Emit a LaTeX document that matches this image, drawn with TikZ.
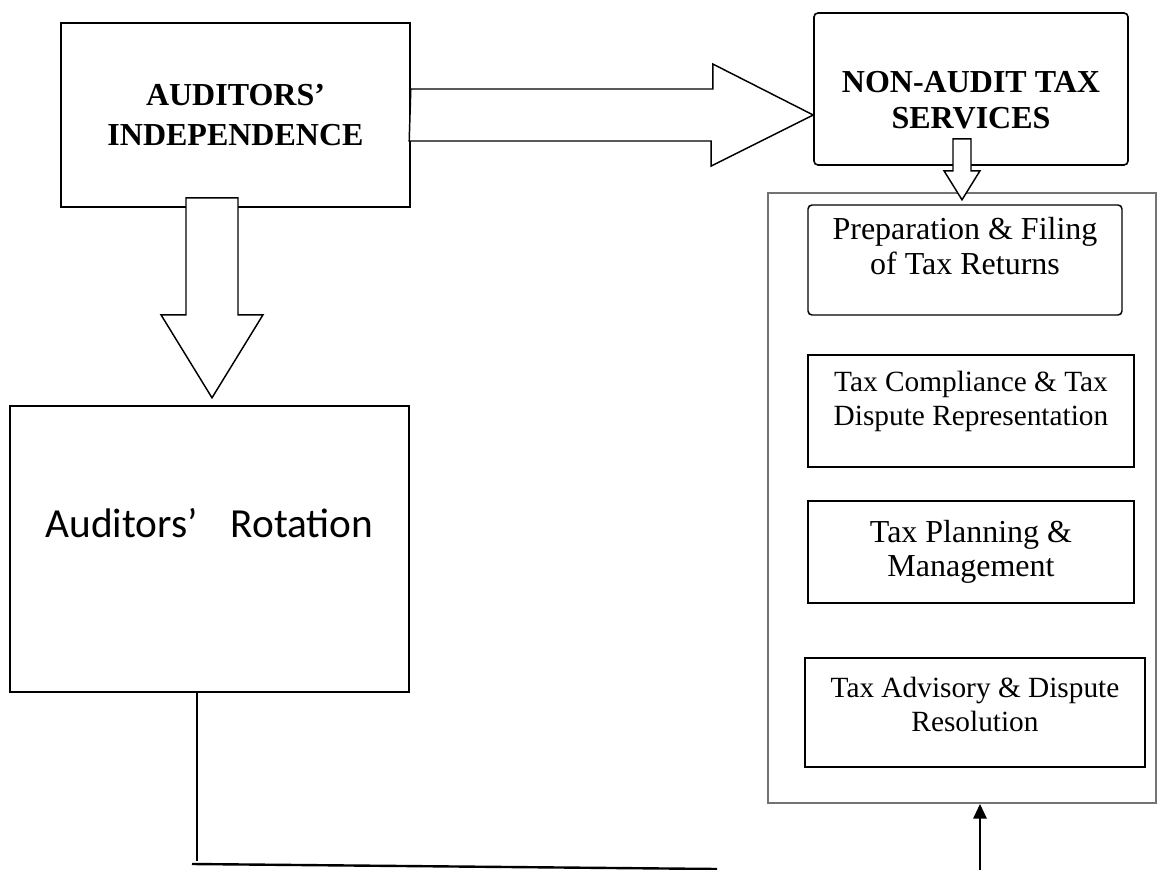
\documentclass[tikz,border=0pt]{standalone}
\usepackage{fontspec}
\setmainfont{Liberation Serif}
\newfontfamily\calibrifont{Carlito}
\usetikzlibrary{arrows.meta,calc}

\tikzset{
  mainbox/.style={draw,line width=1.2pt,inner sep=0pt},
  taskbox/.style={draw,line width=1.1pt,inner sep=0pt},
  groupbox/.style={draw=black!55,line width=1.4pt,inner sep=0pt},
  blockarrow/.style={draw,fill=white,line width=1.1pt,line join=miter},
  headtext/.style={align=center,inner sep=0pt,font=\fontsize{24}{30}\selectfont\bfseries},
  bigtext/.style={align=center,inner sep=0pt,font=\fontsize{24}{26}\selectfont},
  smalltext/.style={align=center,inner sep=0pt,font=\fontsize{22}{25.5}\selectfont},
  link/.style={line width=1.4pt}
}

\begin{document}
\begin{tikzpicture}[x=0.75pt,y=-0.75pt]
  \useasboundingbox (0,0) rectangle (1157,870);

  % left column
  \node[mainbox,minimum width=261.75pt,minimum height=138pt] (ind) at (235.5,115) {};
  \node[headtext] (indT) at (ind.center) {AUDITORS’\\INDEPENDENCE};
  \node[mainbox,minimum width=299.25pt,minimum height=214.5pt] (rot) at (209.5,549) {};
  \node[inner sep=0pt,font=\calibrifont\fontsize{31}{36}\selectfont] (rotT) at ($(rot.center)+(0,-26)$) {Auditors’\hspace{0.8em}Rotation};

  % right column
  \node[mainbox,rounded corners=3pt,minimum width=235.5pt,minimum height=114pt] (nat) at (971,89) {};
  \node[headtext,font=\fontsize{24}{27}\selectfont\bfseries] (natT) at ($(nat.center)+(0,11)$) {NON-AUDIT TAX\\SERVICES};
  \node[groupbox,minimum width=291pt,minimum height=457.5pt] (grp) at (962,498) {};

  % the four services
  \node[taskbox,rounded corners=3pt,minimum width=235.5pt,minimum height=82.5pt] (prep) at (965,260) {};
  \node[bigtext] (prepT) at ($(prep.center)+(0,-14)$) {Preparation \& Filing\\of Tax Returns};
  \node[taskbox,minimum width=244.5pt,minimum height=84pt] (comp) at (971,411) {};
  \node[smalltext] (compT) at ($(comp.center)+(0,-10)$) {Tax Compliance \& Tax\\Dispute Representation};
  \node[taskbox,minimum width=244.5pt,minimum height=76.5pt] (plan) at (971,552) {};
  \node[bigtext] (planT) at (plan.center) {Tax Planning \&\\Management};
  \node[taskbox,minimum width=255pt,minimum height=81.75pt] (adv) at (975,712.5) {};
  \node[smalltext] (advT) at ($(adv.center)+(0,-8)$) {Tax Advisory \& Dispute\\Resolution};

  % block arrows
  \draw[blockarrow] (ind.east) ++(0,-26) -- ++(302,0) -- ++(0,-25)
    -- (nat.west |- ind.east) -- ++(-102,51) -- ++(0,-25) -- ++(-302,0) -- cycle;
  \draw[blockarrow] (ind.south) ++(-49.5,-10) -- ++(0,117) -- ++(-25,0)
    -- ++(51,83) -- ++(51,-83) -- ++(-25,0) -- ++(0,-117) -- cycle;
  \draw[blockarrow] (nat.south) ++(-18,-27) -- ++(0,32) -- ++(-9,0)
    -- ++(18,29) -- ++(18,-29) -- ++(-9,0) -- ++(0,-32) -- cycle;

  % bottom lines
  \coordinate (drop) at (197,861);
  \coordinate (baseL) at (192,864);
  \coordinate (baseR) at (717,869);
  \coordinate (feed) at (980,872);
  \draw[link] (rot.south -| drop) -- (drop);
  \draw[link,line width=1.8pt] (baseL) -- (baseR);
  \draw[link,-{Triangle[length=11pt,width=10pt]}] (feed) -- (feed |- grp.south);
\end{tikzpicture}
\end{document}
